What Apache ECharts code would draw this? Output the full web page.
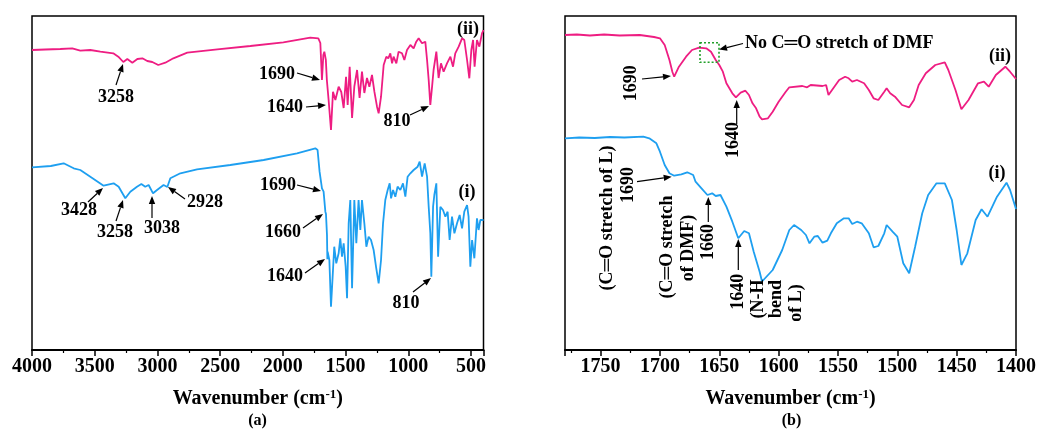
<!DOCTYPE html>
<html><head><meta charset="utf-8">
<script src="https://cdn.jsdelivr.net/npm/echarts@6/dist/echarts.min.js"></script>
<style>html,body{margin:0;padding:0;background:#fff}#c{width:1039px;height:430px}</style>
</head><body><div id="c"></div>
<script>
// ---- Data (wavenumber cm-1, relative transmittance in arbitrary units) ----
// Panel (a): full range, curve (ii) pink
const specA_ii = [[4000,300],[3894,300.5],[3774,301],[3679,301.7],[3615,299.3],[3535,300],[3455,298.3],[3352,296.7],[3312,293.3],[3272,288],[3240,291],[3200,287.3],[3160,291],[3120,291.7],[3081,289],[3041,288],[2993,285],[2937,287.3],[2873,291.7],[2762,297.3],[2522,300.7],[2259,304],[1996,307.7],[1781,312.3],[1717,311.7],[1701,307],[1688,270],[1677,295],[1669,298.3],[1657,290],[1649,270],[1635,250],[1616,220],[1600,258.3],[1581,250],[1555,263.3],[1534,258],[1515,242],[1496,273.3],[1483,245],[1467,283.3],[1448,232],[1430,263.3],[1408,280],[1388,252],[1369,278.3],[1350,257],[1329,272],[1310,263.3],[1289,275],[1270,258.3],[1249,243.3],[1236,236.7],[1217,253.3],[1196,285],[1175,293.3],[1159,291.7],[1143,296.7],[1129,286.7],[1117,293.3],[1095,286.7],[1077,298.3],[1050,296.7],[1031,290],[1010,300],[983,305],[957,301.7],[936,308.3],[917,311.7],[890,306.7],[864,308.3],[850,290],[837,270],[824,245],[810,263.3],[798,280],[776,298.3],[758,272],[739,286.7],[718,278.3],[691,286.7],[664,293.3],[643,283.3],[625,296.7],[598,303.3],[571,311.7],[553,310],[531,290],[513,271.7],[497,300],[483,310],[471,283.3],[452,310],[433,303.3],[412,316.7],[400,320]];
// Panel (a): full range, curve (i) blue
const specA_i = [[4000,182.7],[3850,184],[3748,186.7],[3668,181.7],[3615,180],[3535,173.3],[3429,164.3],[3349,166.7],[3309,163.3],[3256,151.7],[3216,158.3],[3163,163.3],[3128,166],[3097,163.3],[3070,165],[3035,156.7],[3003,160],[2951,165],[2921,163],[2897,171.7],[2817,176.7],[2684,180.7],[2419,185],[2153,190],[1887,196.7],[1741,201.7],[1723,200],[1707,178.3],[1688,161.7],[1675,158.3],[1661,138.3],[1656,136],[1648,115],[1645,90.7],[1643,98.3],[1629,90],[1616,43.3],[1600,80],[1590,103.3],[1574,86.7],[1555,96.7],[1542,111.7],[1528,93.3],[1515,106.7],[1499,83.3],[1488,51.7],[1475,126.7],[1462,150],[1448,61.7],[1430,150],[1414,106.7],[1396,150],[1382,120],[1369,150],[1350,126.7],[1334,103.3],[1316,113.3],[1297,110],[1276,100],[1255,81.7],[1236,66.7],[1217,90],[1201,126.7],[1183,150],[1164,160],[1148,166.7],[1137,151.7],[1121,160],[1103,153.3],[1085,163.3],[1063,160],[1042,166.7],[1023,153.3],[1005,173.3],[983,176.7],[957,180],[925,183.3],[909,188.3],[890,173.3],[869,186.7],[850,173.3],[837,143.3],[824,116.7],[816,73.3],[802,143.3],[792,155],[776,166.7],[762,93.3],[744,143.3],[723,140],[704,133.3],[686,138.3],[670,110],[651,133.3],[632,116.7],[611,126.7],[590,135],[571,121.7],[553,138.3],[531,145],[519,133.3],[505,83.3],[491,110],[473,91.7],[452,131.7],[439,120],[425,130],[412,131.7],[400,130]];
// Panel (b): zoomed range, curve (ii) pink
const specB_ii = [[1780,315],[1770,315.5],[1759,314.5],[1747,315.5],[1734,314.5],[1717,315],[1705,313],[1700,311.7],[1696,305],[1692,290],[1689.5,278],[1688,273.3],[1684,283.3],[1678,293.3],[1673,300],[1667,302.3],[1661,301.7],[1657,298.3],[1653,290],[1650,285],[1647,278.3],[1644,266.7],[1639,256.7],[1636,252.7],[1632,257.3],[1628,259.3],[1625,255],[1622,246.7],[1619,241.7],[1616,233.3],[1614,230.7],[1609,231.7],[1605,238.3],[1600,248.3],[1594,258.3],[1591,262.7],[1580,264],[1576,262.7],[1573,265],[1563,264],[1560,265],[1558,255],[1555,260],[1549,270],[1544,273.3],[1541,271.7],[1538,268.3],[1534,270],[1528,266.7],[1524,260],[1520,251.7],[1516,250],[1511,258.3],[1509,261.7],[1506,256.7],[1502,253.3],[1496,245],[1490,242.7],[1486,250],[1482,265],[1476,276.7],[1468,285],[1460,287.7],[1457,280],[1451,260],[1446,240.7],[1440,250],[1432,266.7],[1427,268.3],[1423,263.3],[1417,275],[1409,283.3],[1405,278.3],[1400,271]];
// Panel (b): zoomed range, curve (i) blue
const specB_i = [[1780,211.7],[1768,212.5],[1755,212],[1742,213],[1730,212.5],[1714,213.3],[1709,211.7],[1703,206.7],[1700,198.3],[1696,185],[1692,176.7],[1688,174.3],[1682,175.7],[1677,177.7],[1672,175],[1670,168.3],[1665,161.7],[1660,155],[1656,156.7],[1653,154],[1649,155],[1644,143.3],[1639,128.3],[1634,111.7],[1629,119],[1625,116.7],[1621,98.3],[1616,78.3],[1614,68.5],[1605,80],[1597,100],[1591,120],[1587,125],[1581,120],[1577,115],[1574,106.7],[1570,113.3],[1567,114],[1563,107.3],[1559,109.3],[1556,116.7],[1551,126.7],[1545,131.7],[1541,131.7],[1538,126],[1534,128.3],[1530,126.7],[1524,116.7],[1520,102.7],[1516,104],[1511,116.7],[1509,125],[1504,118.3],[1500,113.3],[1495,86.7],[1490,76.7],[1485,103.3],[1479,136.7],[1474,155],[1467,166.7],[1460,166.7],[1454,150],[1450,120],[1446,85],[1441,96.7],[1434,130],[1429,140.7],[1424,133.3],[1416,153.3],[1408,167.3],[1405,160],[1400,141]];

const PINK = '#ee1d82', BLUE = '#1e9ff0';
const SERIF = '"Liberation Serif","Times New Roman",serif';

const chart = echarts.init(document.getElementById('c'), null, {renderer:'canvas'});

function xAxisCommon(extra){
  return Object.assign({
    type:'value', position:'bottom',
    nameLocation:'middle', nameGap:38,
    name:'{a|Wavenumber (cm}{s|-1}{a|)}',
    nameTextStyle:{rich:{
      a:{fontFamily:SERIF,fontWeight:'bold',fontSize:20,color:'#000'},
      s:{fontFamily:SERIF,fontWeight:'bold',fontSize:13,color:'#000',padding:[0,0,9,0]}
    }},
    axisLine:{show:true,onZero:false,lineStyle:{color:'#000',width:2}},
    axisTick:{show:true,inside:false,length:6,lineStyle:{color:'#000',width:1.5}},
    minorTick:{show:true,splitNumber:2,length:3,lineStyle:{color:'#000',width:1.2}},
    splitLine:{show:false}, minorSplitLine:{show:false},
    axisLabel:{fontFamily:SERIF,fontWeight:'bold',fontSize:20,color:'#000',margin:7,showMaxLabel:false,formatter:v=>String(Math.abs(v))}
  }, extra);
}

const option = {
  animation:false,
  backgroundColor:'#fff',
  grid:[
    {left:32, top:16, width:451.5, height:334, show:true, borderColor:'#000', borderWidth:1.5, backgroundColor:'transparent'},
    {left:565, top:16, width:452.7, height:334, show:true, borderColor:'#000', borderWidth:1.5, backgroundColor:'transparent'}
  ],
  xAxis:[
    xAxisCommon({gridIndex:0, min:-4000, max:-400, interval:500}),
    xAxisCommon({gridIndex:1, min:1400, max:1780, interval:50, inverse:true})
  ],
  yAxis:[
    {gridIndex:0,type:'value',min:0,max:334,show:false},
    {gridIndex:1,type:'value',min:0,max:334,show:false}
  ],
  series:[
    {type:'line',xAxisIndex:0,yAxisIndex:0,data:specA_ii.map(p=>[-p[0],p[1]]),showSymbol:false,symbol:'none',lineStyle:{color:PINK,width:1.8},z:3},
    {type:'line',xAxisIndex:0,yAxisIndex:0,data:specA_i.map(p=>[-p[0],p[1]]),showSymbol:false,symbol:'none',lineStyle:{color:BLUE,width:1.8},z:3},
    {type:'line',xAxisIndex:1,yAxisIndex:1,data:specB_ii,showSymbol:false,symbol:'none',lineStyle:{color:PINK,width:1.8},z:3},
    {type:'line',xAxisIndex:1,yAxisIndex:1,data:specB_i,showSymbol:false,symbol:'none',lineStyle:{color:BLUE,width:1.8},z:3}
  ]
};

// ---- Annotations (pixel placement) ----
const labelsH = [
  ['3258',116,97],['1690',277,74],['1640',285,107],['810',397,121],['(ii)',468,29],
  ['3428',79,210],['3258',115,232],['3038',162,228],['2928',205,202],['1690',278,185],['(i)',467,192],
  ['1660',283,232],['1640',285,276],['810',406,303],
  ['(ii)',1000,56],['(i)',997,173]
];
const labelsV = [
  ['1690',631.7,83.3],['1640',733.3,140],
  ['(C\u2550O stretch of L)',607,218],['1690',628.3,185],
  ['(C\u2550O stretch',667,247],['of DMF)',688,248],
  ['1660',708.3,242],['1640',738.3,291.7],['(N-H',758.3,299],['bend',776.7,299],['of L)',796.7,303]
];
const arrows = [
  [116,85,123,64],[297,73,320,80],[306,107,326,105],[410,115,429,106],
  [88,202,103,188],[116,221,123,200],[152,218,152,196],[185,199,168,187],[297,185,321,191],
  [303,228,323,214],[305,273,325,259],[413,292,431,278],
  [743,43.5,719,49.5],[642,79,671,76],[736.7,124,736.7,100],
  [637,181.7,671.7,176.7],[708.3,222,708.3,197],[738.3,270,738.3,239]
];

const g = [];
const FONT = 'bold 18px ' + SERIF;
labelsH.forEach(([t,x,y])=>g.push({type:'text',x,y,z:10,style:{text:t,fill:'#000',font:FONT,align:'center',verticalAlign:'middle'}}));
labelsV.forEach(([t,x,y])=>g.push({type:'text',x,y,rotation:Math.PI/2,z:10,style:{text:t,fill:'#000',font:FONT,align:'center',verticalAlign:'middle'}}));
g.push({type:'text',x:745,y:43.5,z:10,style:{text:'No C\u2550O stretch of DMF',fill:'#000',font:FONT,align:'left',verticalAlign:'middle'}});
arrows.forEach(([x1,y1,x2,y2])=>{
  const dx=x2-x1, dy=y2-y1, L=Math.hypot(dx,dy), ux=dx/L, uy=dy/L;
  const hl=8, hw=3.2, bx=x2-ux*hl, by=y2-uy*hl;
  g.push({type:'line',z:10,shape:{x1,y1,x2:bx,y2:by},style:{stroke:'#000',lineWidth:1.2}});
  g.push({type:'polygon',z:10,shape:{points:[[x2,y2],[bx-uy*hw,by+ux*hw],[bx+uy*hw,by-ux*hw]]},style:{fill:'#000'}});
});
g.push({type:'rect',z:10,shape:{x:700,y:42.7,width:19,height:19.6},style:{fill:'none',stroke:'#22a02a',lineWidth:1.6,lineDash:[2,2]}});
g.push({type:'text',x:257.5,y:421,z:10,style:{text:'(a)',fill:'#000',font:'bold 16px '+SERIF,align:'center',verticalAlign:'middle'}});
g.push({type:'text',x:791.5,y:421,z:10,style:{text:'(b)',fill:'#000',font:'bold 16px '+SERIF,align:'center',verticalAlign:'middle'}});
option.graphic = g;

chart.setOption(option);
</script></body></html>
